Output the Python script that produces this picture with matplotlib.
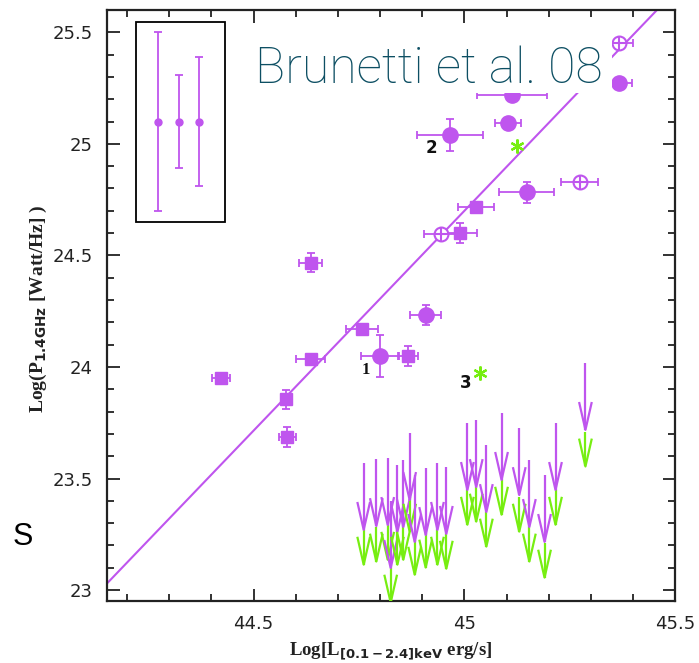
import matplotlib
matplotlib.use("Agg")
import matplotlib.pyplot as plt
from matplotlib.patches import Rectangle
from matplotlib.ticker import MultipleLocator, FixedLocator, FuncFormatter

purple = '#bf55ee'
green = '#77ee11'
teal = '#0d4f63'

# detections: filled circles
circ_x = [44.908, 44.799, 45.113, 44.966, 45.104, 45.148, 45.367]
circ_y = [24.233, 24.049, 25.22, 25.040, 25.093, 24.783, 25.272]
circ_xerr = [0.036, 0.045, 0.083, 0.078, 0.031, 0.065, 0.030]
circ_yerr = [0.043, 0.094, 0.03, 0.071, 0.0, 0.047, 0.0]

# detections: squares
sq_x = [44.635, 44.757, 44.867, 44.635, 44.422, 44.576, 44.580, 45.028, 44.990]
sq_y = [24.468, 24.169, 24.049, 24.034, 23.952, 23.855, 23.687, 24.719, 24.600]
sq_xerr = [0.027, 0.038, 0.024, 0.034, 0.021, 0.010, 0.020, 0.043, 0.039]
sq_yerr = [0.043, 0.0, 0.043, 0.0, 0.015, 0.043, 0.045, 0.0, 0.043]

# detections: open circles with cross
oc_x = [44.945, 45.273, 45.367]
oc_y = [24.596, 24.827, 25.452]
oc_xerr = [0.040, 0.044, 0.033]
oc_yerr = [0.02, 0.02, 0.02]

# green asterisks
ast_x = [45.124, 45.038]
ast_y = [24.988, 23.972]

# upper limits (purple) and second limit (green) at the same luminosity
ul_x = [44.761, 44.791, 44.818, 44.825, 44.841, 44.855, 44.870, 44.882, 44.908, 44.936,
        44.957, 45.007, 45.028, 45.052, 45.088, 45.130, 45.154, 45.190, 45.216, 45.287]
ul_purple = [23.570, 23.587, 23.592, 23.399, 23.561, 23.583, 23.704, 23.516, 23.547, 23.570,
             23.552, 23.749, 23.762, 23.650, 23.794, 23.726, 23.583, 23.516, 23.749, 24.018]
ul_green = [23.269, 23.283, 23.291, 23.099, 23.269, 23.291, 23.417, 23.224, 23.256, 23.269,
            23.251, 23.448, 23.462, 23.350, 23.493, 23.417, 23.283, 23.211, 23.448, 23.709]

# typical error bars shown in the box
typ_x = [44.273, 44.322, 44.370]
typ_y = [25.1, 25.1, 25.1]
typ_err = [0.40, 0.21, 0.29]

# best fit
fit_a = 24.70
fit_b = 1.97

labels = ['1', '2', '3']
label_x = [44.765, 44.922, 45.004]
label_y = [23.987, 24.981, 23.927]

xlim = (44.152, 45.5)
ylim = (22.951, 25.6)


def draw_limit(ax, x, y, length, color):
    hl = 0.12
    hw = 0.0145
    tip = y - length
    ax.plot([x, x], [y, tip], color=color, lw=1.6, zorder=3, solid_capstyle='butt')
    ax.plot([x - hw, x, x + hw], [tip + hl, tip, tip + hl], color=color, lw=1.6, zorder=3)


fig = plt.figure(figsize=(6.99, 6.63), dpi=100)
ax = fig.add_axes([0.153, 0.0935, 0.813, 0.8915])

# fit line
ax.plot(list(xlim), [fit_a + fit_b * (xlim[0] - 45), fit_a + fit_b * (xlim[1] - 45)],
        color=purple, lw=1.5, zorder=2)

eb = dict(fmt='none', ecolor=purple, elinewidth=1.3, capsize=3, capthick=1.3, zorder=3)
ax.errorbar(circ_x, circ_y, xerr=circ_xerr, yerr=circ_yerr, **eb)
ax.plot(circ_x, circ_y, 'o', color=purple, ms=11, zorder=4)
ax.errorbar(sq_x, sq_y, xerr=sq_xerr, yerr=sq_yerr, **eb)
ax.plot(sq_x, sq_y, 's', color=purple, ms=8, zorder=4)
ax.errorbar(oc_x, oc_y, xerr=oc_xerr, yerr=oc_yerr, **eb)
ax.plot(oc_x, oc_y, 'o', mfc='white', mec=purple, mew=1.5, ms=10, zorder=4)
ax.plot(oc_x, oc_y, '+', color=purple, mew=1.5, ms=10, zorder=4)
ax.plot(ast_x, ast_y, marker=(6, 2, 0), ls='none', color=green, mew=1.6, ms=10, zorder=4)

for x, yp, yg in zip(ul_x, ul_purple, ul_green):
    draw_limit(ax, x, yg, 0.155, green)
    draw_limit(ax, x, yp, 0.30, purple)

# box with typical errors
ax.add_patch(Rectangle((44.220, 24.650), 0.211, 0.897, fill=False, ec='black', lw=1.3, zorder=3))
ax.errorbar(typ_x, typ_y, yerr=typ_err, fmt='o', color=purple, ms=5,
            elinewidth=1.3, capsize=3, capthick=1.3, zorder=4)

for t, x, y in zip(labels, label_x, label_y):
    fam = 'Liberation Serif' if t == '1' else 'DejaVu Sans'
    ax.text(x, y, t, ha='center', va='center', fontsize=12, fontweight='bold',
            family=fam, color='#111111', zorder=5)

# title with white backing
ax.add_patch(Rectangle((44.479, 25.229), 0.872, 0.29, fc='white', ec='none', zorder=6))
ax.text(44.915, 25.274, 'Brunetti et al. 08', ha='center', va='baseline', fontsize=36,
        family=['Roboto', 'DejaVu Sans'], fontweight='light', fontstyle='normal',
        color=teal, zorder=7)

ax.set_xlim(*xlim)
ax.set_ylim(*ylim)
ax.xaxis.set_major_locator(FixedLocator([44.5, 45.0, 45.5]))
ax.xaxis.set_minor_locator(MultipleLocator(0.1))
ax.yaxis.set_major_locator(FixedLocator([23.0, 23.5, 24.0, 24.5, 25.0, 25.5]))
ax.yaxis.set_minor_locator(MultipleLocator(0.1))
fmt = FuncFormatter(lambda v, p: '%g' % v)
ax.xaxis.set_major_formatter(fmt)
ax.yaxis.set_major_formatter(fmt)
ax.tick_params(which='both', direction='in', top=True, right=True, width=1.3, color='#222222')
ax.tick_params(which='major', length=9, pad=10, labelsize=13, labelcolor='#222222')
ax.tick_params(which='minor', length=5)
for s in ax.spines.values():
    s.set_linewidth(1.6)
    s.set_color('#222222')

ax.text(0.5, -0.085, r'Log[L$_{\mathbf{[0.1-2.4]keV}}$ erg/s]', transform=ax.transAxes,
        ha='center', va='center', fontsize=13.5, fontweight='bold', family='Liberation Serif',
        color='#222222')
ax.text(-0.12, 0.494, r'Log(P$_{\mathbf{1.4GHz}}$ [Watt/Hz] )', transform=ax.transAxes,
        ha='center', va='center', rotation=90, fontsize=14, fontweight='bold',
        family='Liberation Serif', color='#222222')

fig.text(23 / 699, 1 - 537 / 663, 'S', ha='center', va='center', fontsize=22,
         family='Liberation Sans', fontweight='normal', color='black')

fig.savefig('out.png', dpi=100)
